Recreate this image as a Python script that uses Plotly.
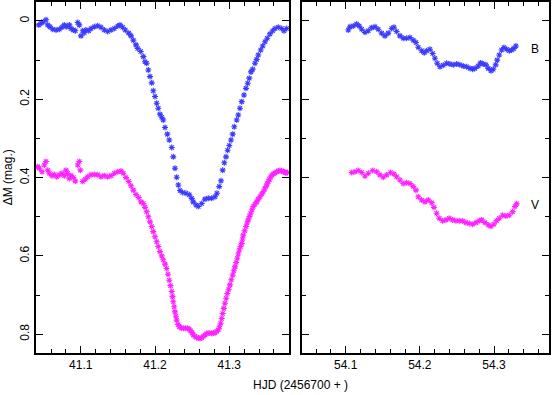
import plotly.graph_objects as go

# night 1 (HJD 2456741)
b1_hjd = [41.0435, 41.0466, 41.0497, 41.0533, 41.0556, 41.0587, 41.0623, 41.0668, 41.0712, 41.0748,
          41.0779, 41.0812, 41.0847, 41.0869, 41.0900, 41.0927, 41.0960, 41.0981, 41.1004, 41.1027,
          41.1048, 41.1071, 41.1108, 41.1139, 41.1183, 41.1229, 41.1273, 41.1318, 41.1363, 41.1408,
          41.1452, 41.1498, 41.1529, 41.1565, 41.1600, 41.1646, 41.1677, 41.1708, 41.1744, 41.1767,
          41.1808, 41.1843, 41.1865, 41.1888, 41.1910, 41.1933, 41.1956, 41.1977, 41.2000, 41.2023,
          41.2044, 41.2067, 41.2090, 41.2111, 41.2135, 41.2166, 41.2192, 41.2225, 41.2246, 41.2269,
          41.2292, 41.2314, 41.2336, 41.2373, 41.2417, 41.2462, 41.2494, 41.2515, 41.2552, 41.2583,
          41.2629, 41.2673, 41.2717, 41.2763, 41.2808, 41.2834, 41.2865, 41.2888, 41.2911, 41.2933,
          41.2956, 41.2978, 41.3000, 41.3023, 41.3046, 41.3067, 41.3100, 41.3121, 41.3144, 41.3167,
          41.3198, 41.3225, 41.3248, 41.3269, 41.3292, 41.3315, 41.3346, 41.3369, 41.3390, 41.3423,
          41.3450, 41.3481, 41.3511, 41.3548, 41.3584, 41.3615, 41.3660, 41.3705, 41.3736, 41.3773]
b1_dm = [0.010, 0.006, 0.002, -0.003, 0.010, 0.015, 0.021, 0.023, 0.021, 0.016,
         0.010, 0.015, 0.010, 0.019, 0.023, 0.025, 0.004, 0.010, 0.038, 0.025,
         0.030, 0.023, 0.025, 0.019, 0.015, 0.012, 0.016, 0.023, 0.027, 0.023,
         0.019, 0.013, 0.010, 0.016, 0.023, 0.031, 0.038, 0.049, 0.061, 0.070,
         0.078, 0.091, 0.104, 0.108, 0.125, 0.142, 0.158, 0.178, 0.193, 0.210,
         0.223, 0.238, 0.246, 0.253, 0.272, 0.289, 0.304, 0.323, 0.347, 0.376,
         0.399, 0.419, 0.433, 0.438, 0.440, 0.444, 0.453, 0.462, 0.470, 0.474,
         0.466, 0.455, 0.453, 0.453, 0.449, 0.440, 0.423, 0.408, 0.381, 0.362,
         0.347, 0.330, 0.318, 0.304, 0.289, 0.270, 0.253, 0.240, 0.223, 0.206,
         0.189, 0.172, 0.159, 0.146, 0.130, 0.123, 0.108, 0.098, 0.087, 0.074,
         0.064, 0.053, 0.044, 0.033, 0.025, 0.019, 0.016, 0.019, 0.025, 0.019]

v1_hjd = [41.0421, 41.0443, 41.0479, 41.0510, 41.0533, 41.0556, 41.0577, 41.0614, 41.0645, 41.0677,
          41.0712, 41.0748, 41.0779, 41.0802, 41.0825, 41.0847, 41.0869, 41.0900, 41.0927, 41.0960,
          41.0981, 41.0995, 41.1027, 41.1062, 41.1094, 41.1139, 41.1183, 41.1229, 41.1273, 41.1318,
          41.1363, 41.1408, 41.1452, 41.1498, 41.1542, 41.1573, 41.1610, 41.1646, 41.1677, 41.1708,
          41.1744, 41.1781, 41.1812, 41.1843, 41.1865, 41.1888, 41.1910, 41.1933, 41.1956, 41.1977,
          41.2000, 41.2023, 41.2044, 41.2067, 41.2090, 41.2111, 41.2135, 41.2157, 41.2175, 41.2192,
          41.2209, 41.2225, 41.2236, 41.2246, 41.2258, 41.2269, 41.2281, 41.2292, 41.2310, 41.2327,
          41.2354, 41.2381, 41.2408, 41.2435, 41.2458, 41.2480, 41.2498, 41.2515, 41.2538, 41.2561,
          41.2583, 41.2606, 41.2629, 41.2650, 41.2673, 41.2696, 41.2727, 41.2763, 41.2785, 41.2808,
          41.2830, 41.2852, 41.2868, 41.2884, 41.2898, 41.2911, 41.2926, 41.2942, 41.2958, 41.2973,
          41.2992, 41.3009, 41.3027, 41.3046, 41.3061, 41.3077, 41.3093, 41.3108, 41.3121, 41.3135,
          41.3151, 41.3167, 41.3178, 41.3188, 41.3207, 41.3225, 41.3241, 41.3256, 41.3272, 41.3288,
          41.3306, 41.3323, 41.3346, 41.3369, 41.3390, 41.3413, 41.3436, 41.3458, 41.3476, 41.3494,
          41.3510, 41.3525, 41.3541, 41.3557, 41.3575, 41.3592, 41.3615, 41.3638, 41.3660, 41.3682,
          41.3705, 41.3727, 41.3746, 41.3763, 41.3783]
v1_dm = [0.372, 0.376, 0.385, 0.368, 0.359, 0.381, 0.389, 0.395, 0.392, 0.398,
         0.393, 0.389, 0.395, 0.381, 0.389, 0.402, 0.395, 0.400, 0.409, 0.368,
         0.359, 0.381, 0.410, 0.404, 0.398, 0.393, 0.392, 0.393, 0.398, 0.395,
         0.398, 0.395, 0.389, 0.385, 0.383, 0.389, 0.400, 0.410, 0.421, 0.432,
         0.443, 0.451, 0.462, 0.466, 0.476, 0.487, 0.500, 0.513, 0.525, 0.538,
         0.551, 0.564, 0.576, 0.589, 0.600, 0.610, 0.621, 0.632, 0.647, 0.662,
         0.676, 0.691, 0.704, 0.717, 0.730, 0.743, 0.754, 0.764, 0.775, 0.781,
         0.784, 0.785, 0.785, 0.785, 0.787, 0.791, 0.796, 0.802, 0.806, 0.808,
         0.810, 0.811, 0.809, 0.806, 0.802, 0.798, 0.797, 0.798, 0.797, 0.796,
         0.793, 0.789, 0.781, 0.772, 0.760, 0.747, 0.734, 0.721, 0.708, 0.696,
         0.685, 0.674, 0.661, 0.649, 0.638, 0.628, 0.617, 0.606, 0.595, 0.585,
         0.576, 0.568, 0.557, 0.547, 0.536, 0.525, 0.516, 0.508, 0.499, 0.491,
         0.482, 0.474, 0.468, 0.462, 0.455, 0.449, 0.442, 0.436, 0.429, 0.423,
         0.416, 0.410, 0.404, 0.398, 0.394, 0.391, 0.388, 0.385, 0.383, 0.382,
         0.383, 0.385, 0.386, 0.388, 0.387]

# night 2 (HJD 2456754)
b2_hjd = [54.1035, 54.1058, 54.1102, 54.1148, 54.1183, 54.1216, 54.1260, 54.1305, 54.1350, 54.1395,
          54.1439, 54.1485, 54.1530, 54.1574, 54.1620, 54.1651, 54.1687, 54.1732, 54.1776, 54.1822,
          54.1867, 54.1911, 54.1947, 54.1978, 54.2024, 54.2059, 54.2092, 54.2136, 54.2173, 54.2203,
          54.2234, 54.2271, 54.2315, 54.2361, 54.2406, 54.2450, 54.2496, 54.2540, 54.2585, 54.2631,
          54.2675, 54.2712, 54.2743, 54.2787, 54.2819, 54.2854, 54.2891, 54.2922, 54.2958, 54.2989,
          54.3022, 54.3043, 54.3070, 54.3102, 54.3133, 54.3170, 54.3205, 54.3237, 54.3268, 54.3295]
b2_dm = [0.023, 0.015, 0.013, 0.008, 0.013, 0.021, 0.029, 0.025, 0.017, 0.015,
         0.021, 0.031, 0.038, 0.031, 0.019, 0.016, 0.027, 0.038, 0.044, 0.044,
         0.042, 0.049, 0.055, 0.067, 0.076, 0.081, 0.076, 0.072, 0.083, 0.095,
         0.108, 0.117, 0.113, 0.108, 0.110, 0.112, 0.110, 0.112, 0.115, 0.117,
         0.121, 0.123, 0.121, 0.115, 0.107, 0.110, 0.112, 0.121, 0.127, 0.123,
         0.112, 0.100, 0.087, 0.074, 0.068, 0.072, 0.076, 0.074, 0.070, 0.064]

v2_hjd = [54.1081, 54.1125, 54.1170, 54.1216, 54.1260, 54.1305, 54.1364, 54.1418, 54.1462, 54.1507,
          54.1553, 54.1606, 54.1651, 54.1687, 54.1732, 54.1776, 54.1822, 54.1867, 54.1911, 54.1947,
          54.1978, 54.2024, 54.2069, 54.2113, 54.2159, 54.2190, 54.2226, 54.2261, 54.2307, 54.2352,
          54.2396, 54.2442, 54.2487, 54.2531, 54.2577, 54.2621, 54.2666, 54.2712, 54.2756, 54.2801,
          54.2833, 54.2877, 54.2922, 54.2958, 54.2999, 54.3035, 54.3070, 54.3116, 54.3160, 54.3205,
          54.3251, 54.3282, 54.3305]
v2_dm = [0.387, 0.385, 0.382, 0.387, 0.396, 0.389, 0.382, 0.385, 0.393, 0.399,
         0.393, 0.387, 0.391, 0.398, 0.406, 0.415, 0.413, 0.415, 0.423, 0.432,
         0.449, 0.457, 0.462, 0.457, 0.464, 0.476, 0.491, 0.504, 0.510, 0.508,
         0.504, 0.508, 0.510, 0.510, 0.511, 0.515, 0.517, 0.519, 0.515, 0.510,
         0.508, 0.515, 0.521, 0.524, 0.519, 0.510, 0.504, 0.496, 0.498, 0.496,
         0.487, 0.474, 0.467]

BLUE = "#3b3bff"
MAGENTA = "#ff22ff"
FONT = "Liberation Sans, Arial, sans-serif"


def star_trace(x, y, color, xaxis, yaxis):
    return go.Scatter(
        x=x, y=y, mode="markers", xaxis=xaxis, yaxis=yaxis, showlegend=False,
        marker=dict(symbol="asterisk-open", size=5, color=color,
                    line=dict(color=color, width=1.1)),
    )


fig = go.Figure()
fig.add_trace(star_trace(b1_hjd, b1_dm, BLUE, "x", "y"))
fig.add_trace(star_trace(v1_hjd, v1_dm, MAGENTA, "x", "y"))
fig.add_trace(star_trace(b2_hjd, b2_dm, BLUE, "x2", "y2"))
fig.add_trace(star_trace(v2_hjd, v2_dm, MAGENTA, "x2", "y2"))

axis_style = dict(
    showline=True, linecolor="black", linewidth=1.5, mirror="ticks",
    ticks="inside", ticklen=7, tickwidth=1, tickcolor="black",
    showgrid=False, zeroline=False, automargin=False,
    tickfont=dict(family=FONT, size=12, color="black"),
)
minor_x = dict(dtick=0.02, ticks="inside", ticklen=4, tickcolor="black", showgrid=False)
minor_y = dict(dtick=0.1, ticks="inside", ticklen=4, tickcolor="black", showgrid=False)

fig.update_layout(
    template="none",
    width=555, height=395,
    margin=dict(l=36, r=6, t=2, b=42),
    plot_bgcolor="white", paper_bgcolor="white",
    xaxis=dict(axis_style, domain=[0, 0.4932], range=[41.0398, 41.3804],
               tick0=41.1, dtick=0.1, minor=minor_x),
    xaxis2=dict(axis_style, domain=[0.5185, 1], range=[54.0411, 54.3741],
                tick0=54.1, dtick=0.1, minor=minor_x),
    yaxis=dict(axis_style, anchor="x", range=[0.848, -0.0485], dtick=0.2,
               tickangle=-90, minor=minor_y),
    yaxis2=dict(axis_style, anchor="x2", matches="y", range=[0.848, -0.0485], dtick=0.2,
                showticklabels=False, minor=minor_y),
    annotations=[
        dict(text="HJD (2456700 + )", xref="paper", yref="paper", x=0.515, y=-0.091,
             showarrow=False, yanchor="middle", font=dict(family=FONT, size=12, color="black")),
        dict(text="ΔM (mag.)", xref="paper", yref="paper", x=-0.055, y=0.5, textangle=-90,
             xanchor="center", yanchor="middle", showarrow=False,
             font=dict(family=FONT, size=12, color="black")),
        dict(text="B", xref="x2", yref="y2", x=54.355, y=0.0715, showarrow=False,
             font=dict(family=FONT, size=12, color="black")),
        dict(text="V", xref="x2", yref="y2", x=54.355, y=0.47, showarrow=False,
             font=dict(family=FONT, size=12, color="black")),
    ],
)

# drop the browser's default 8px body margin so the figure fills the window
fig.write_html("out.html", config={"displayModeBar": False},
               post_script="document.body.style.margin='0';")
